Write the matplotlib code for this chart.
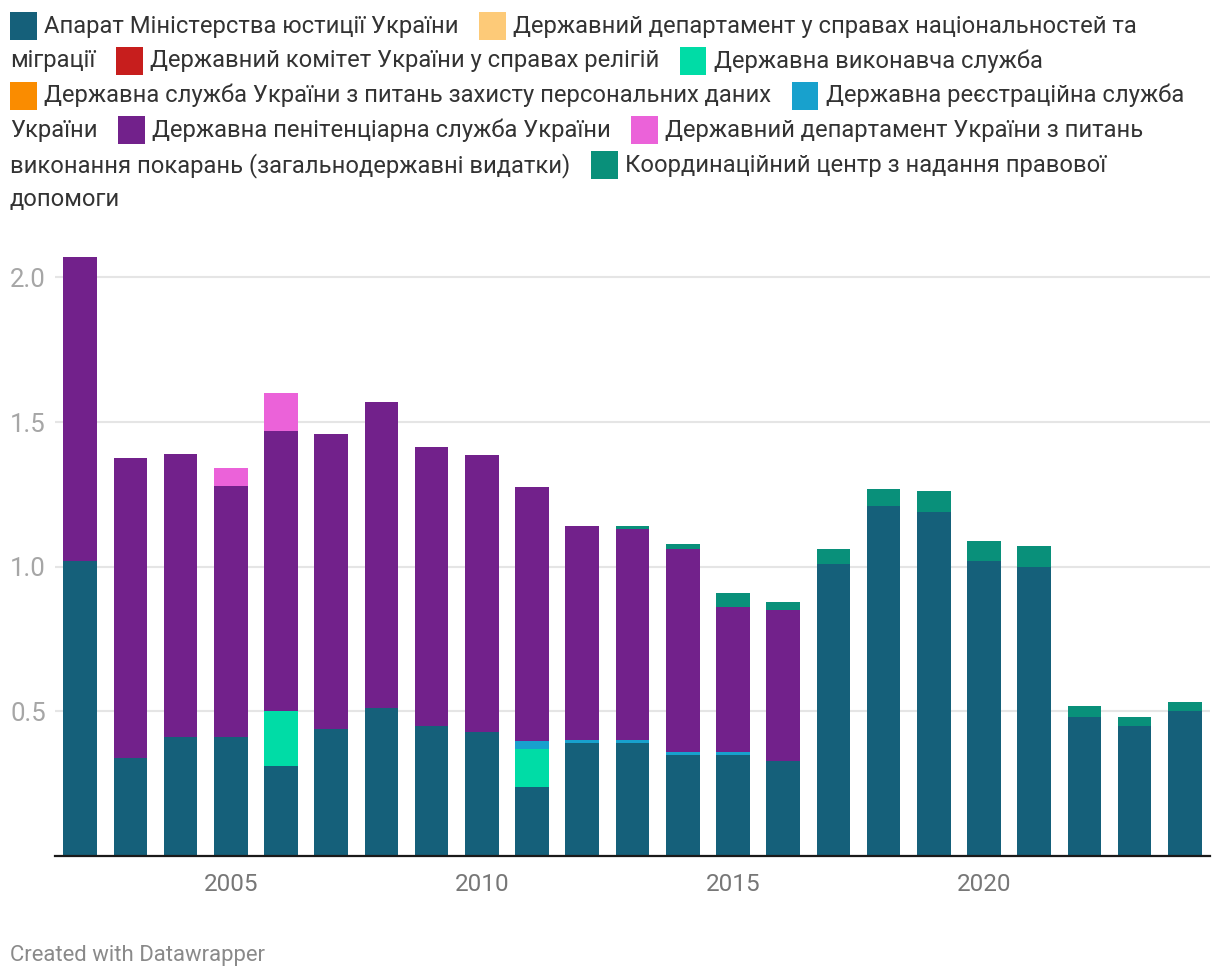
import numpy as np
import matplotlib
matplotlib.use("Agg")
import matplotlib.pyplot as plt
from matplotlib.patches import Rectangle

plt.rcParams['font.family'] = ['Roboto', 'DejaVu Sans']

# Data
years = list(range(2002, 2025))

aparat = [1.02, 0.34, 0.41, 0.41, 0.31, 0.44, 0.51, 0.45, 0.43, 0.24, 0.39, 0.39,
          0.35, 0.35, 0.33, 1.01, 1.21, 1.19, 1.02, 1.00, 0.48, 0.45, 0.50]
natsionalnosti = [0] * 23
religii = [0] * 23
vykonavcha = [0, 0, 0, 0, 0.19, 0, 0, 0, 0, 0.13, 0, 0,
              0, 0, 0, 0, 0, 0, 0, 0, 0, 0, 0]
pers_dani = [0] * 23
reyestratsiina = [0, 0, 0, 0, 0, 0, 0, 0, 0, 0.028, 0.011, 0.011,
                  0.011, 0.011, 0, 0, 0, 0, 0, 0, 0, 0, 0]
penitentsiarna = [1.05, 1.035, 0.98, 0.868, 0.97, 1.02, 1.059, 0.965, 0.955, 0.879, 0.741, 0.731,
                  0.70, 0.50, 0.52, 0, 0, 0, 0, 0, 0, 0, 0]
dep_pokaran = [0, 0, 0, 0.062, 0.129, 0, 0, 0, 0, 0, 0, 0,
               0, 0, 0, 0, 0, 0, 0, 0, 0, 0, 0]
koord_tsentr = [0, 0, 0, 0, 0, 0, 0, 0, 0, 0, 0, 0.01,
                0.017, 0.048, 0.028, 0.052, 0.059, 0.073, 0.069, 0.072, 0.038, 0.031, 0.031]

labels = [
    "Апарат Міністерства юстиції України",
    "Державний департамент у справах національностей та міграції",
    "Державний комітет України у справах релігій",
    "Державна виконавча служба",
    "Державна служба України з питань захисту персональних даних",
    "Державна реєстраційна служба України",
    "Державна пенітенціарна служба України",
    "Державний департамент України з питань виконання покарань (загальнодержавні видатки)",
    "Координаційний центр з надання правової допомоги",
]
colors = ["#15607a", "#fdca78", "#c71e1d", "#00dca6", "#fa8c00",
          "#18a1cd", "#72218b", "#eb62d9", "#09907a"]
series = [aparat, natsionalnosti, religii, vykonavcha, pers_dani,
          reyestratsiina, penitentsiarna, dep_pokaran, koord_tsentr]

W, H = 1220, 980
fig = plt.figure(figsize=(W / 100, H / 100), dpi=100)
ax = fig.add_axes([55 / W, (H - 856) / H, 1155 / W, 607.5 / H])

bottom = np.zeros(len(years))
for vals, col in zip(series, colors):
    vals = np.array(vals, dtype=float)
    ax.bar(years, vals, bottom=bottom, width=0.67, color=col, linewidth=0, zorder=2)
    bottom += vals

ax.set_xlim(2001.5, 2024.5)
ax.set_ylim(0, 2.1)
ax.set_yticks([0.5, 1.0, 1.5, 2.0])
ax.set_yticklabels(["0.5", "1.0", "1.5", "2.0"])
ax.set_xticks([2005, 2010, 2015, 2020])
ax.grid(axis='y', color='#e5e5e5', linewidth=1.5, zorder=0)
for s in ['top', 'right', 'left']:
    ax.spines[s].set_visible(False)
ax.spines['bottom'].set_color('#1a1a1a')
ax.spines['bottom'].set_linewidth(1.6)
ax.spines['bottom'].set_zorder(3)
ax.tick_params(axis='y', length=0, pad=32.4, labelsize=18.5, labelcolor='#a6a6a6')
for t in ax.get_yticklabels():
    t.set_horizontalalignment('left')
ax.tick_params(axis='x', length=0, pad=12, labelsize=17.5, labelcolor='#777777')

# legend laid out as flowing text
fs = 17.15
r = fig.canvas.get_renderer()


def width(s):
    t = fig.text(0, 0, s, fontsize=fs)
    w = t.get_window_extent(r).width
    t.remove()
    return w


x0, xmax = 10, 1198
line_y0, line_h = 26, 34.8
patch_w, gap_pt, item_gap = 27, 7, 20.5


def put_text(s, x, line):
    fig.text(x / W, 1 - (line_y0 + line * line_h) / H, s, fontsize=fs,
             color='#333333', va='center', ha='left')


x, line = x0, 0
for lab, col in zip(labels, colors):
    words = lab.split()
    need = patch_w + gap_pt + width(words[0])
    if x > x0 and x + need > xmax:
        line += 1
        x = x0
    yc = line_y0 + line * line_h
    fig.add_artist(Rectangle((x / W, 1 - (yc + 14) / H), patch_w / W, 28 / H,
                             transform=fig.transFigure, color=col, linewidth=0))
    x += patch_w + gap_pt
    seg, seg_x = words[0], x
    for w in words[1:]:
        trial = seg + ' ' + w
        if seg_x + width(trial) > xmax:
            put_text(seg, seg_x, line)
            line += 1
            seg, seg_x = w, x0
        else:
            seg = trial
    put_text(seg, seg_x, line)
    x = seg_x + width(seg) + item_gap

fig.text(10 / W, 1 - 955 / H, "Created with Datawrapper", fontsize=15.9,
         color='#8a8a8a', va='center', ha='left')

fig.savefig("out.png", dpi=100, facecolor='white')
